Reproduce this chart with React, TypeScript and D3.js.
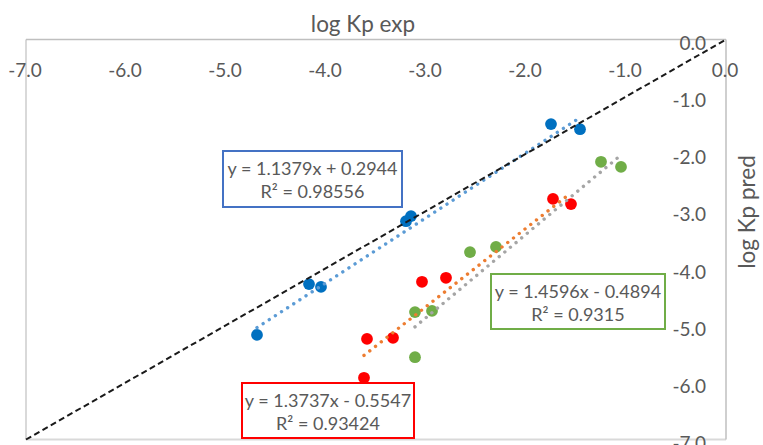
import React from "react";
import * as d3 from "d3";

// ---- data ----
const xTicks = [-7, -6, -5, -4, -3, -2, -1, 0];
const yTicks = [0, -1, -2, -3, -4, -5, -6, -7];

const blueX = [-1.75, -1.46, -3.15, -3.2, -4.17, -4.05, -4.69];
const blueY = [-1.48, -1.57, -3.09, -3.18, -4.28, -4.33, -5.17];

const redX = [-1.73, -1.55, -3.04, -2.8, -3.59, -3.33, -3.62];
const redY = [-2.79, -2.88, -4.24, -4.17, -5.24, -5.22, -5.92];

const greenX = [-1.25, -1.05, -2.56, -2.3, -3.11, -2.94, -3.11];
const greenY = [-2.14, -2.23, -3.72, -3.63, -4.77, -4.75, -5.56];

const blueFit = [1.1379, 0.2944];
const redFit = [1.3737, -0.5547];
const greenFit = [1.4596, -0.4894];

const blueLabel = ["y = 1.1379x + 0.2944", "R² = 0.98556"];
const redLabel = ["y = 1.3737x - 0.5547", "R² = 0.93424"];
const greenLabel = ["y = 1.4596x - 0.4894", "R² = 0.9315"];

const xTitle = "log Kp exp";
const yTitle = "log Kp pred";

const W = 763;
const H = 445;
const FONT = "Lato, 'Open Sans', sans-serif";

export default function App() {
  const x = d3.scaleLinear().domain([-7, 0]).range([26, 726]);
  const y = d3.scaleLinear().domain([0, -7]).range([39.5, 439.5]);

  const series = [
    { xs: blueX, ys: blueY, color: "#0070C0", fit: blueFit, trend: "#5B9BD5" },
    { xs: redX, ys: redY, color: "#FF0000", fit: redFit, trend: "#ED7D31" },
    { xs: greenX, ys: greenY, color: "#70AD47", fit: greenFit, trend: "#A5A5A5" },
  ];

  const line = d3
    .line<[number, number]>()
    .x((d) => x(d[0]))
    .y((d) => y(d[1]));

  const labels = [
    { lines: blueLabel, box: [223, 151, 179, 56], color: "#4472C4" },
    { lines: redLabel, box: [242, 383, 172, 55], color: "#FF0000" },
    { lines: greenLabel, box: [491, 274, 174, 55], color: "#70AD47" },
  ];

  return (
    <svg
      width={W}
      height={H}
      style={{ position: "absolute", left: 0, top: 0, background: "#fff" }}
      fontFamily={FONT}
    >
      {/* plot border */}
      <line x1={x(-7)} x2={x(-7)} y1={y(0)} y2={y(-7)} stroke="#D9D9D9" strokeWidth={2} />
      <line x1={x(-7)} x2={x(0)} y1={y(-7)} y2={y(-7)} stroke="#D9D9D9" strokeWidth={2} />
      <line x1={x(-7)} x2={x(0)} y1={y(0)} y2={y(0)} stroke="#BFBFBF" strokeWidth={1.5} />
      <line x1={x(0)} x2={x(0)} y1={y(0)} y2={y(-7)} stroke="#BFBFBF" strokeWidth={1.5} />

      {/* x tick labels */}
      {xTicks.map((t) => (
        <text
          key={"x" + t}
          x={x(t) - 1}
          y={69}
          textAnchor="middle"
          dominantBaseline="central"
          fontSize={19}
          fill="#595959"
        >
          {t.toFixed(1)}
        </text>
      ))}
      {/* y tick labels */}
      {yTicks.map((t) => (
        <text
          key={"y" + t}
          x={706}
          y={y(t) + 3}
          textAnchor="end"
          dominantBaseline="central"
          fontSize={19}
          fill="#595959"
        >
          {t.toFixed(1)}
        </text>
      ))}

      {/* titles */}
      <text x={363} y={32} textAnchor="middle" fontSize={22.5} fill="#595959">
        {xTitle}
      </text>
      <text
        transform={`translate(755,212) rotate(-90)`}
        textAnchor="middle"
        fontSize={22.5}
        fill="#595959"
      >
        {yTitle}
      </text>

      {/* markers */}
      {series.map((s, i) =>
        s.xs.map((v, j) => (
          <circle key={`m${i}-${j}`} cx={x(v)} cy={y(s.ys[j])} r={5.9} fill={s.color} />
        ))
      )}

      {/* trendlines */}
      {series.map((s, i) => {
        const [lo, hi] = d3.extent(s.xs) as [number, number];
        const pts: [number, number][] = [
          [lo, s.fit[0] * lo + s.fit[1]],
          [hi, s.fit[0] * hi + s.fit[1]],
        ];
        return (
          <path
            key={"t" + i}
            d={line(pts) || ""}
            stroke={s.trend}
            strokeWidth={3.4}
            strokeLinecap="round"
            strokeDasharray="0.01 7.3"
            fill="none"
          />
        );
      })}

      {/* y = x reference */}
      <path
        d={line([
          [-7, -7],
          [0, 0],
        ]) || ""}
        stroke="#1a1a1a"
        strokeWidth={2}
        strokeDasharray="6 3.5"
        fill="none"
      />

      {/* equation labels */}
      {labels.map((l, i) => (
        <g key={"l" + i}>
          <rect
            x={l.box[0]}
            y={l.box[1]}
            width={l.box[2]}
            height={l.box[3]}
            fill="#fff"
            stroke={l.color}
            strokeWidth={2}
          />
          {l.lines.map((txt, k) => (
            <text
              key={k}
              x={l.box[0] + l.box[2] / 2}
              y={l.box[1] + 17 + k * 23}
              textAnchor="middle"
              dominantBaseline="central"
              fontSize={18}
              fill="#595959"
            >
              {txt}
            </text>
          ))}
        </g>
      ))}
    </svg>
  );
}
